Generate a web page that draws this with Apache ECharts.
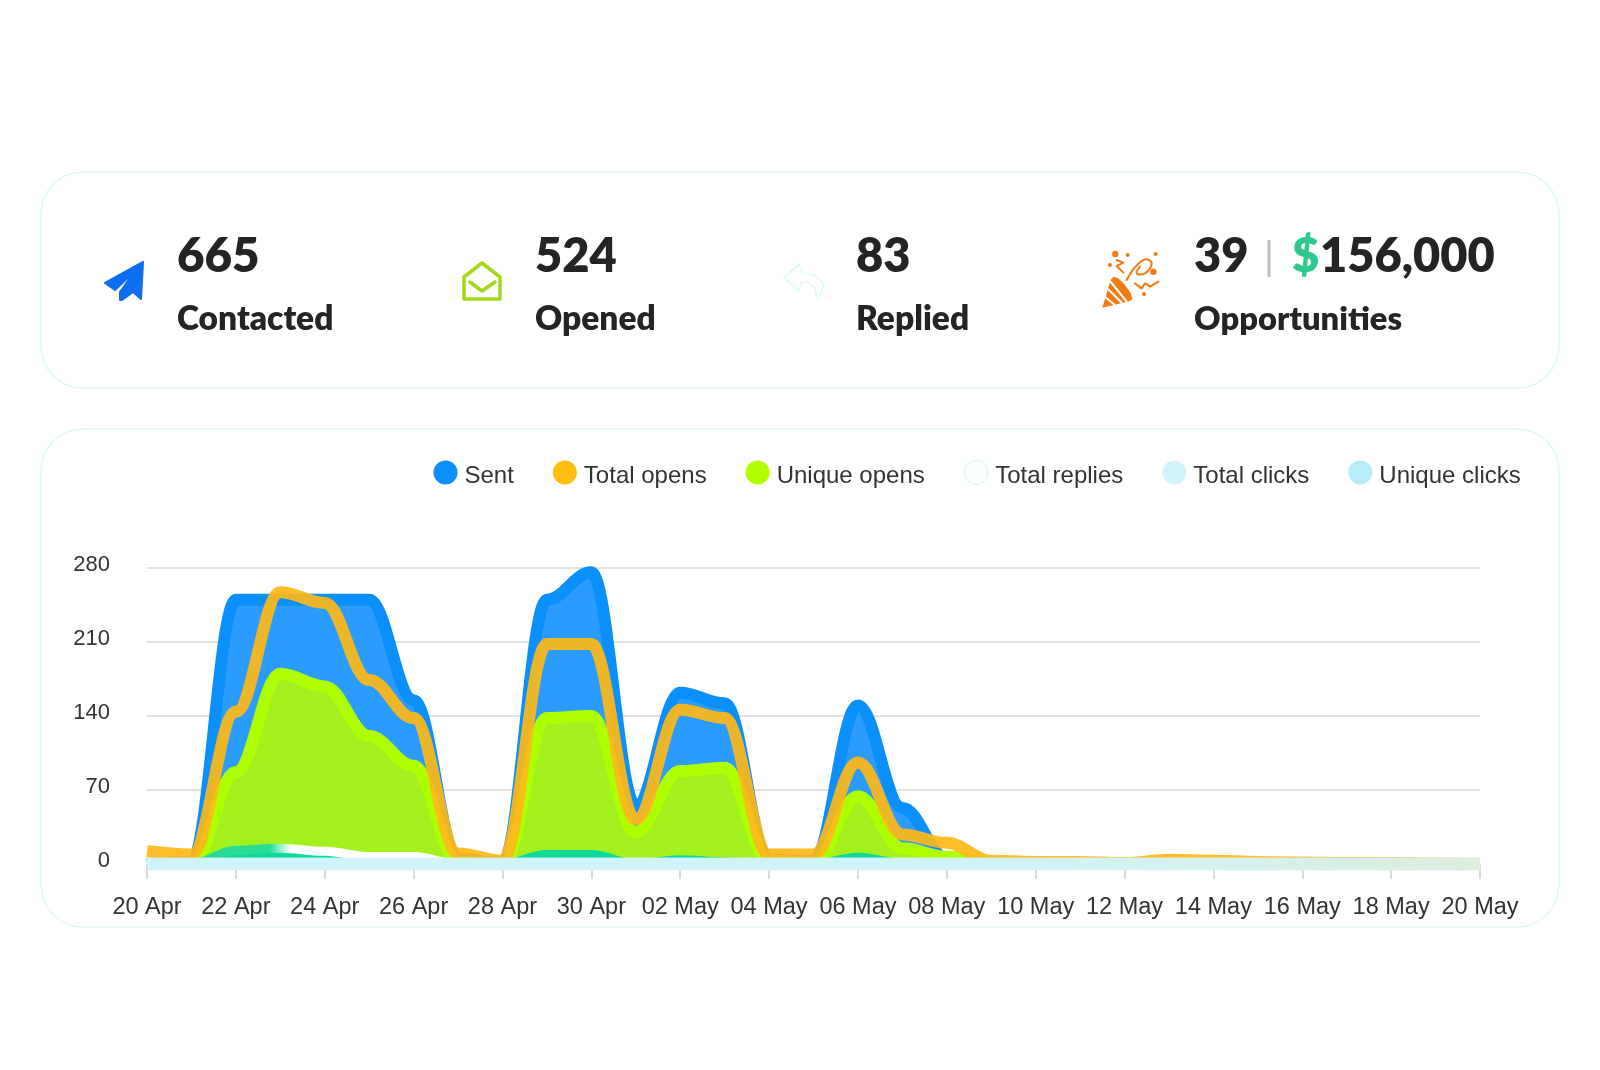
<!DOCTYPE html>
<html>
<head>
<meta charset="utf-8">
<title>Campaign analytics</title>
<script src="https://cdn.jsdelivr.net/npm/echarts@6/dist/echarts.min.js"></script>
<style>html,body{margin:0;padding:0;background:#fff}#c{width:1600px;height:1070px}</style>
</head>
<body>
<div id="c"></div>
<script>
const categories = ['20 Apr','21 Apr','22 Apr','23 Apr','24 Apr','25 Apr','26 Apr','27 Apr','28 Apr','29 Apr','30 Apr','01 May','02 May','03 May','04 May','05 May','06 May','07 May','08 May','09 May','10 May','11 May','12 May','13 May','14 May','15 May','16 May','17 May','18 May','19 May','20 May'];
const sent = [0,2,250,250,250,250,155,5,1,250,276,55,162,152,4,3,150,53,5,0,0,0,0,0,0,0,0,0,0,0,0];
const totalOpens = [12,9,144,257,247,174,138,10,3,208,208,42,146,138,9,9,96,28,20,3,2,2,1,4,3,2,1.5,1,1,0.5,0];
const uniqueOpens = [0,0,87,180,168,121,93,2,0,138,140,30,88,91,3,1,64,15,7,1,0,0,0,0,0,0,0,0,0,0,0];
const totalReplies = [0,0,13,15,12,7,7,0,0,9,9,0,4,2,0,0,6.5,1,0,0,0,0,0,0,0,0,0,0,0,0,0];
const totalClicks = [0,0,0,0,0,0,0,0,0,0,0,0,0,0,0,0,0,0,0,0,0,0,0,0,0,0,0,0,0,0,0];
const uniqueClicks = [0,0,0,0,0,0,0,0,0,0,0,0,0,0,0,0,0,0,0,0,0,0,0,0,0,0,0,0,0,0,0];
const legendNames = ['Sent','Total opens','Unique opens','Total replies','Total clicks','Unique clicks'];

const HEAD = 'Lato, "Noto Sans", sans-serif';
const BODY = '"Liberation Sans", Arial, sans-serif';
const DARK = '#222426';

function heading(x, y, text, size, fill) {
  return {type:'text', x, y, z:5, style:{text, fontFamily:HEAD, fontWeight:800, fontSize:size, fill:fill||DARK, textVerticalAlign:'middle', verticalAlign:'middle'}};
}
function card(y, h) {
  return {type:'rect', z:-10, shape:{x:41, y, width:1518, height:h, r:42}, style:{fill:'#fff', stroke:'#DDFAF2', lineWidth:1.5}};
}
const orange = '#F47A12';
function pts(list){ return list.map(p => [1090+p[0]/3, 240+p[1]/3]); }
function squiggle(list, smooth){
  return {type:'polyline', z:5, shape:{points:pts(list), smooth:smooth||0}, style:{stroke:orange, lineWidth:2, fill:null, lineJoin:'round', lineCap:'round'}};
}
function dot(p, r){ const q = pts([p])[0]; return {type:'circle', z:5, shape:{cx:q[0], cy:q[1], r:r||2}, style:{fill:orange}}; }

const graphics = [
  card(172, 216), card(429, 498),
  heading(177,257,'665',47.5), heading(177,319,'Contacted',33.5),
  heading(535,257,'524',47), heading(535,319,'Opened',33.5),
  heading(856,257,'83',47), heading(856,319,'Replied',33.5),
  heading(1194,257,'39',47),
  {type:'rect', z:5, shape:{x:1267.5,y:240,width:3,height:37}, style:{fill:'#BDBDBD'}},
  heading(1292,257,'$',47,'#2FC98F'),
  heading(1320,257,'156,000',47),
  heading(1194,319,'Opportunities',32.7),
  // paper plane
  {type:'polygon', z:5, shape:{points:[[143,262],[105,283],[115,290],[135,271],[120,292],[120,300],[122,300],[133,292],[141,299]]}, style:{fill:'#0F6FF2', stroke:'#0F6FF2', lineWidth:2, lineJoin:'round'}},
  // open envelope
  {type:'polygon', z:5, shape:{points:[[464,277],[482,263],[500,277],[500,299],[464,299]]}, style:{fill:'none', stroke:'#A5D61A', lineWidth:3.5, lineJoin:'round'}},
  {type:'polyline', z:5, shape:{points:[[470,282],[482,291],[495,282]]}, style:{fill:null, stroke:'#A5D61A', lineWidth:3.5, lineCap:'round', lineJoin:'round'}},
  // reply arrow
  {type:'polygon', z:5, shape:{points:[[784,278],[799,264],[802,273],[813,274],[823,283],[823,290],[817,299],[815,288],[807,282],[801,283],[799,291]]}, style:{fill:'#fff', stroke:'#D3FAF4', lineWidth:1.2, lineJoin:'round'}},
  // party popper
  {type:'polygon', z:5, shape:{points:pts([[37,203],[62,120],[70,110],[85,115],[105,135],[122,160],[127,178],[118,184]])}, style:{fill:orange}},
  {type:'line', z:6, shape:{x1:1105,y1:297,x2:1115,y2:305}, style:{stroke:'#fff',lineWidth:2}},
  {type:'line', z:6, shape:{x1:1108,y1:289,x2:1122,y2:303}, style:{stroke:'#fff',lineWidth:2}},
  {type:'line', z:6, shape:{x1:1110,y1:281,x2:1127,y2:302}, style:{stroke:'#fff',lineWidth:2}},
  squiggle([[80,60],[100,68],[80,78],[100,98]]),
  squiggle([[110,120],[130,88],[165,58],[185,70],[165,100],[140,100],[150,80]], 0.4),
  squiggle([[135,130],[155,145],[165,130],[180,140],[205,125]]),
  dot([113,45]), dot([197,42]), dot([60,75]), dot([162,162]), dot([76,42],3.2), dot([190,95],3.2)
];

const common = {type:'line', smooth:0.38, smoothMonotone:'x', showSymbol:false, symbol:'none', clip:false, animation:false, silent:true};
const bandColor = {type:'linear', global:true, x:147, y:0, x2:1480, y2:0, colorStops:[
  {offset:0, color:'#CFF4FC'},{offset:0.62, color:'#CFF4FC'},{offset:0.85, color:'#D6F1EA'},{offset:1, color:'#DCEEDD'}]};

const option = {
  animation:false,
  backgroundColor:'#fff',
  textStyle:{fontFamily:BODY},
  graphic:{elements:graphics},
  legend:{
    left:428.5, top:455, icon:'circle', itemWidth:24, itemHeight:24, itemGap:39, selectedMode:false,
    formatter:'{t|{name}}',
    textStyle:{fontFamily:BODY, fontSize:24, color:'#333',
      rich:{t:{fontFamily:BODY, fontSize:24, color:'#333', padding:[8,0,0,2]}}},
    data:[
      {name:legendNames[0], itemStyle:{color:'#0A8FFC'}},
      {name:legendNames[1], itemStyle:{color:'#FFBE12'}},
      {name:legendNames[2], itemStyle:{color:'#B2FF00'}},
      {name:legendNames[3], itemStyle:{color:'#fff', borderColor:'#CFFAF2', borderWidth:1}},
      {name:legendNames[4], itemStyle:{color:'#D4F2FC'}},
      {name:legendNames[5], itemStyle:{color:'#B8ECFB'}}
    ]
  },
  grid:{left:147, right:120, top:568, height:296},
  xAxis:{
    type:'category', data:categories, boundaryGap:false,
    axisLine:{show:false},
    axisTick:{show:true, interval:1, length:15, lineStyle:{color:'#CFCFCF', width:1.5}},
    axisLabel:{interval:1, margin:32, fontFamily:BODY, fontSize:23.5, color:'#333'},
    splitLine:{show:false}
  },
  yAxis:{
    type:'value', min:0, max:280, interval:70,
    axisLine:{show:false}, axisTick:{show:false},
    axisLabel:{margin:37, fontFamily:BODY, fontSize:22, color:'#333', verticalAlign:'bottom', lineHeight:6},
    splitLine:{lineStyle:{color:'#E3E3E3', width:2}}
  },
  series:[
    Object.assign({}, common, {name:legendNames[0], data:sent, z:2,
      itemStyle:{color:'#0A8FFC'}, lineStyle:{color:'#0A8FFC', width:12}, areaStyle:{color:'#2B9CFF', opacity:1}}),
    Object.assign({}, common, {name:legendNames[1], data:totalOpens, z:6,
      itemStyle:{color:'#FFBE12'}, lineStyle:{color:'#FFB817', width:12, opacity:0.92}}),
    Object.assign({}, common, {name:legendNames[2], data:uniqueOpens, z:3,
      itemStyle:{color:'#B2FF00'}, lineStyle:{color:'#AEFF00', width:12}, areaStyle:{color:'#A3F01F', opacity:1}}),
    Object.assign({}, common, {name:legendNames[3], data:totalReplies, z:4,
      itemStyle:{color:'#fff'},
      lineStyle:{width:9, color:{type:'linear', global:true, x:147, y:0, x2:1480, y2:0, colorStops:[
        {offset:0, color:'#2ADB93'},{offset:0.092, color:'#2ADB93'},{offset:0.108, color:'#ffffff'},
        {offset:0.24, color:'#ffffff'},{offset:0.25, color:'#0CD99A'},{offset:1, color:'#0CD99A'}]}},
      areaStyle:{color:'#0CD99A', opacity:1}}),
    Object.assign({}, common, {name:legendNames[4], data:totalClicks, z:7,
      itemStyle:{color:'#D4F2FC'}, lineStyle:{color:'#D4F2FC', width:12.5}}),
    Object.assign({}, common, {name:legendNames[5], data:uniqueClicks, z:8,
      itemStyle:{color:'#B8ECFB'}, lineStyle:{color:bandColor, width:12.5}})
  ]
};
const chart = echarts.init(document.getElementById('c'), null, {renderer:'canvas', width:1600, height:1070});
chart.setOption(option);
</script>
</body>
</html>
